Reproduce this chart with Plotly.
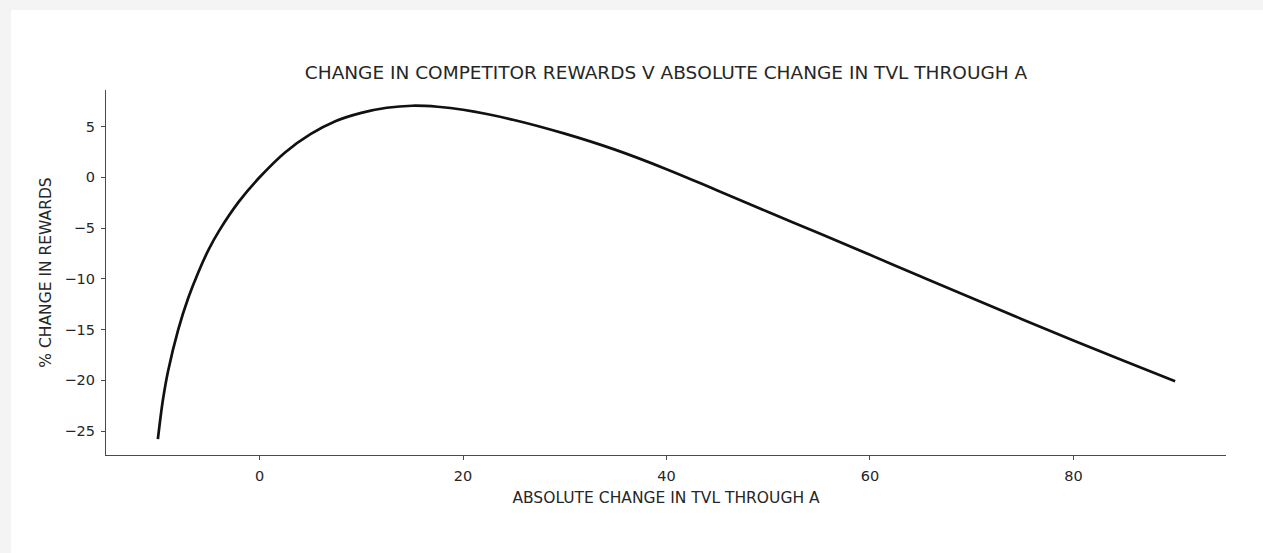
import plotly.graph_objects as go

# Absolute change in TVL through A (x) and resulting % change in competitor rewards (y)
tvl_change = [-10, -9.5, -9, -8, -7, -6, -5, -4, -2, 0, 2.5, 5, 7.5, 10,
              12.5, 15, 17.5, 20, 25, 30, 35, 40, 45, 50, 55, 60, 65, 70,
              75, 80, 85, 90]
rewards_change = [-25.8, -21.9, -19.1, -15.0, -11.85, -9.3, -7.1, -5.3, -2.35,
                  0, 2.45, 4.25, 5.55, 6.35, 6.85, 7.05, 6.95, 6.65, 5.65,
                  4.3, 2.7, 0.8, -1.3, -3.42, -5.52, -7.64, -9.78, -11.9,
                  -14.0, -16.07, -18.1, -20.1]

x_ticks = [0, 20, 40, 60, 80]
y_ticks = [-25, -20, -15, -10, -5, 0, 5]

TITLE = "CHANGE IN COMPETITOR REWARDS V ABSOLUTE CHANGE IN TVL THROUGH A"
X_LABEL = "ABSOLUTE CHANGE IN TVL THROUGH A"
Y_LABEL = "% CHANGE IN REWARDS"

FONT = "DejaVu Sans"
INK = "#262626"
SPINE = "#4a4a4a"

fig = go.Figure()
fig.add_trace(go.Scatter(
    x=tvl_change, y=rewards_change, mode="lines",
    line=dict(color="#111111", width=2.7, shape="spline", smoothing=1.0),
    hoverinfo="skip", showlegend=False,
))

# white card sitting on the light grey page
fig.add_shape(type="rect", xref="paper", yref="paper",
              x0=(11 - 106) / 1120, x1=(1270 - 106) / 1120,
              y0=(455 - 560) / 365, y1=(455 - 10) / 365,
              fillcolor="white", line=dict(width=0), layer="below")

axis_common = dict(
    showgrid=False, zeroline=False, showline=True, linecolor=SPINE,
    linewidth=1.2, ticks="outside", ticklen=4, tickwidth=1, tickcolor=SPINE,
    tickfont=dict(family=FONT, size=14.5, color=INK), mirror=False,
)

fig.update_layout(
    width=1263, height=553,
    margin=dict(l=106, r=37, t=90, b=98),
    paper_bgcolor="#f4f4f4", plot_bgcolor="white",
    title=dict(text=TITLE, x=666 / 1263, xanchor="center",
               y=1 - 73 / 553, yanchor="middle",
               font=dict(family=FONT, size=18.5, color=INK)),
    xaxis=dict(range=[-15.1, 95.0], tickvals=x_ticks, ticklabelstandoff=3,
               title=dict(text=X_LABEL, standoff=9,
                          font=dict(family=FONT, size=15.5, color=INK)),
               **axis_common),
    yaxis=dict(range=[-27.36, 8.6], tickvals=y_ticks, ticklabelstandoff=3,
               title=dict(text=Y_LABEL, standoff=8,
                          font=dict(family=FONT, size=15.5, color=INK)),
               **axis_common),
)

fig.write_html("out.html")
